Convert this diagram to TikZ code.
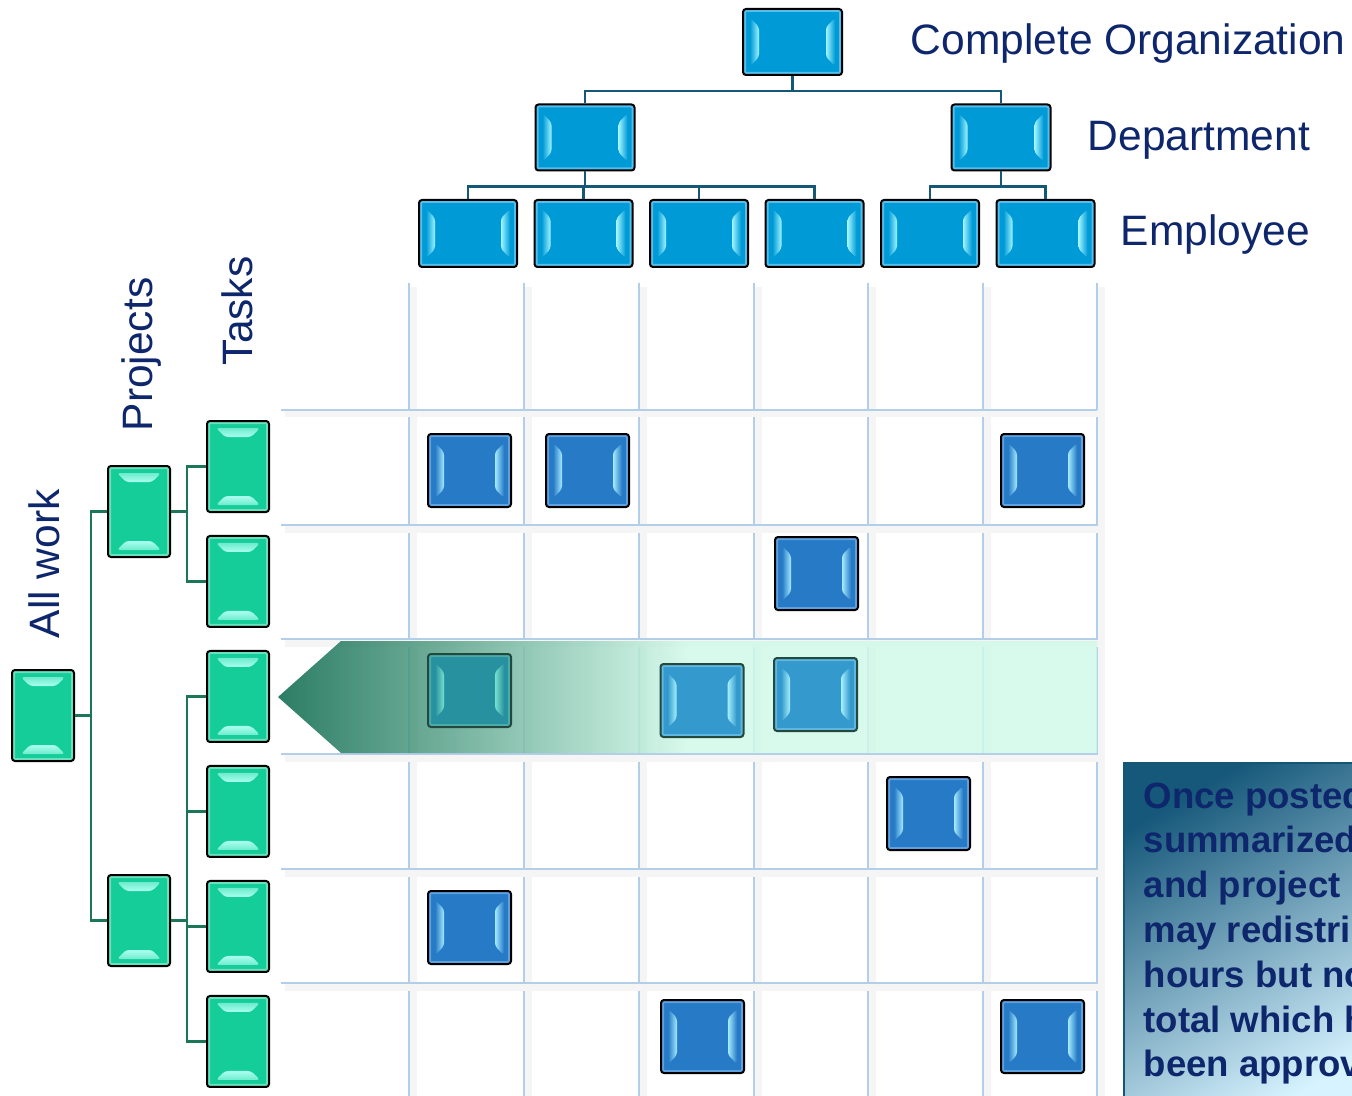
\documentclass[tikz,border=0pt]{standalone}
\usepackage{fontspec}
\setmainfont{Liberation Sans}
\usetikzlibrary{positioning}
\definecolor{navy}{RGB}{14,38,108}
\definecolor{orgfill}{RGB}{0,155,215}
\definecolor{orgrim}{RGB}{85,190,235}
\definecolor{orgshine}{RGB}{160,245,255}
\definecolor{cellfill}{RGB}{38,122,198}
\definecolor{cellrim}{RGB}{95,160,222}
\definecolor{cellshine}{RGB}{165,235,255}
\definecolor{grnfill}{RGB}{20,205,152}
\definecolor{grnrim}{RGB}{105,225,190}
\definecolor{grnshine}{RGB}{170,255,240}
\definecolor{tealfill}{RGB}{40,145,160}
\definecolor{tealrim}{RGB}{75,170,170}
\definecolor{tealshine}{RGB}{120,225,205}
\definecolor{palefill}{RGB}{52,153,205}
\definecolor{palerim}{RGB}{95,182,222}
\definecolor{paleshine}{RGB}{165,240,252}
\definecolor{bandedge}{RGB}{35,72,62}
\definecolor{orgline}{RGB}{20,88,118}
\definecolor{grnline}{RGB}{28,118,88}
\definecolor{gridblue}{RGB}{178,206,232}
\definecolor{banddark}{RGB}{8,102,73}
\definecolor{bandlight}{RGB}{208,249,233}
\definecolor{notetop}{RGB}{22,88,122}
\definecolor{notebot}{RGB}{215,243,255}
\definecolor{noteedge}{RGB}{22,85,115}
\pgfdeclarehorizontalshading{bandshade}{100bp}{color(0bp)=(banddark); color(25bp)=(banddark); color(50bp)=(bandlight); color(100bp)=(bandlight)}

\begin{document}
\begin{tikzpicture}[x=0.1mm,y=-0.1mm,
	lbl/.style={text=navy,inner sep=0pt,font=\fontsize{12.1}{14}\selectfont},
	side/.style={lbl,rotate=90,anchor=base west},
	vbox/.style n args={3}{draw=black,line width=0.2mm,rounded corners=0.3mm,fill=#1,inner sep=0pt,
		path picture={
			\draw[#2,line width=0.6mm] (path picture bounding box.south west) rectangle (path picture bounding box.north east);
			\shade[left color=#1,right color=#3] ([xshift=0.7mm,yshift=-0.9mm]path picture bounding box.north west) -- ([xshift=1.6mm,yshift=-1.8mm]path picture bounding box.north west) -- ([xshift=1.6mm,yshift=1.8mm]path picture bounding box.south west) -- ([xshift=0.7mm,yshift=0.9mm]path picture bounding box.south west) -- cycle;
			\shade[left color=#3,right color=#1] ([xshift=-0.7mm,yshift=-0.9mm]path picture bounding box.north east) -- ([xshift=-1.6mm,yshift=-1.8mm]path picture bounding box.north east) -- ([xshift=-1.6mm,yshift=1.8mm]path picture bounding box.south east) -- ([xshift=-0.7mm,yshift=0.9mm]path picture bounding box.south east) -- cycle;
		}},
	orgbox/.style={vbox={orgfill}{orgrim}{orgshine},minimum width=9.9mm,minimum height=6.6mm},
	empbox/.style={orgbox,minimum width=9.8mm,minimum height=6.7mm},
	cellbox/.style={vbox={cellfill}{cellrim}{cellshine},minimum width=8.3mm,minimum height=7.3mm},
	tealbox/.style={vbox={tealfill}{tealrim}{tealshine},draw=bandedge,minimum width=8.3mm,minimum height=7.3mm},
	palebox/.style={vbox={palefill}{palerim}{paleshine},draw=bandedge,minimum width=8.3mm,minimum height=7.3mm},
	taskbox/.style={draw=black,line width=0.2mm,rounded corners=0.3mm,fill=grnfill,inner sep=0pt,minimum width=6.2mm,minimum height=9.1mm,
		path picture={
			\draw[grnrim,line width=0.6mm] (path picture bounding box.south west) rectangle (path picture bounding box.north east);
			\shade[top color=grnfill!40!grnshine,bottom color=grnshine] ([xshift=0.9mm,yshift=-0.7mm]path picture bounding box.north west) -- ([xshift=-0.9mm,yshift=-0.7mm]path picture bounding box.north east) -- ([xshift=-1.8mm,yshift=-1.6mm]path picture bounding box.north east) -- ([xshift=1.8mm,yshift=-1.6mm]path picture bounding box.north west) -- cycle;
			\shade[bottom color=grnfill!40!grnshine,top color=grnshine] ([xshift=0.9mm,yshift=0.7mm]path picture bounding box.south west) -- ([xshift=-0.9mm,yshift=0.7mm]path picture bounding box.south east) -- ([xshift=-1.8mm,yshift=1.6mm]path picture bounding box.south east) -- ([xshift=1.8mm,yshift=1.6mm]path picture bounding box.south west) -- cycle;
		}},
	tree/.style={draw=orgline,line width=0.22mm},
	gtree/.style={draw=grnline,line width=0.22mm},
	gridline/.style={draw=gridblue,line width=0.2mm,preaction={draw=black!4,line width=0.7mm,transform canvas={xshift=0.4mm,yshift=-0.4mm}}},
	notebox/.style={draw=noteedge,line width=0.2mm,top color=notetop,bottom color=notebot,shading angle=30,inner sep=0pt},
	notetext/.style={text=navy,inner sep=0pt,font=\fontsize{10.4}{12.75}\selectfont\bfseries}
	]
	\useasboundingbox (0,0) rectangle (1352,1096);
	\clip (0,0) rectangle (1352,1096);

	\draw[gridline] (409,283) -- (409,1096) (524,283) -- (524,1096) (639,283) -- (639,1096) (754,283) -- (754,1096)
		(868,283) -- (868,1096) (983,283) -- (983,1096) (1097,283) -- (1097,1096);
	\draw[gridline] (281,410) -- (1097,410) (281,525) -- (1097,525) (281,639) -- (1097,639)
		(281,754) -- (1097,754) (281,869) -- (1097,869) (281,983) -- (1097,983);

	\shade[shading=bandshade,fill opacity=0.85] (278,697) -- (341,641) -- (1097,641) -- (1097,753) -- (341,753) -- cycle;

	\node[orgbox] (org) at (792.5,42) {};
	\node[orgbox] (dep1) at (585,137.5) {};
	\node[orgbox] (dep2) at (1001,137.5) {};
	\node[empbox] (emp1) at (468,233.5) {};
	\node[empbox,right=1.55mm of emp1] (emp2) {};
	\node[empbox,right=1.55mm of emp2] (emp3) {};
	\node[empbox,right=1.55mm of emp3] (emp4) {};
	\node[empbox,right=1.55mm of emp4] (emp5) {};
	\node[empbox,right=1.55mm of emp5] (emp6) {};

	\draw[tree] (org.south) -- ++(0,15) -| (dep1.north);
	\draw[tree] (org.south) -- ++(0,15) -| (dep2.north);
	\draw[tree] (dep1.south) -- ++(0,15) -| (emp1.north);
	\draw[tree] (dep1.south) -- ++(0,15) -| (emp2.north);
	\draw[tree] (dep1.south) -- ++(0,15) -| (emp3.north);
	\draw[tree] (dep1.south) -- ++(0,15) -| (emp4.north);
	\draw[tree] (dep2.south) -- ++(0,15) -| (emp5.north);
	\draw[tree] (dep2.south) -- ++(0,15) -| (emp6.north);

	\node[lbl,anchor=base west] (lorg) at (910,55) {Complete Organization};
	\node[lbl,anchor=base west] (ldep) at (1087,151) {Department};
	\node[lbl,anchor=base west] (lemp) at (1120,246) {Employee};

	\node[side] (lall) at (59,639) {All work};
	\node[side] (lprj) at (152,432) {Projects};
	\node[side] (ltsk) at (252,366) {Tasks};

	\node[taskbox] (all) at (43,715.5) {};
	\node[taskbox] (prj1) at (139,511.5) {};
	\node[taskbox] (prj2) at (139,920.5) {};
	\node[taskbox] (tsk1) at (238,466.5) {};
	\node[taskbox,below=2.2mm of tsk1] (tsk2) {};
	\node[taskbox,below=2.2mm of tsk2] (tsk3) {};
	\node[taskbox,below=2.2mm of tsk3] (tsk4) {};
	\node[taskbox,below=2.2mm of tsk4] (tsk5) {};
	\node[taskbox,below=2.2mm of tsk5] (tsk6) {};

	\draw[gtree] (all.east) -- ++(16,0) |- (prj1.west);
	\draw[gtree] (all.east) -- ++(16,0) |- (prj2.west);
	\draw[gtree] (prj1.east) -- ++(16,0) |- (tsk1.west);
	\draw[gtree] (prj1.east) -- ++(16,0) |- (tsk2.west);
	\draw[gtree] (prj2.east) -- ++(16,0) |- (tsk3.west);
	\draw[gtree] (prj2.east) -- ++(16,0) |- (tsk4.west);
	\draw[gtree] (prj2.east) -- ++(16,0) |- (tsk5.west);
	\draw[gtree] (prj2.east) -- ++(16,0) |- (tsk6.west);

	\node[cellbox] (c1) at (469.5,470.5) {};
	\node[cellbox] (c2) at (587.5,470.5) {};
	\node[cellbox] (c3) at (1042.5,470.5) {};
	\node[cellbox] (c4) at (816.5,573.5) {};
	\node[tealbox] (c5) at (469.5,690.5) {};
	\node[palebox] (c6) at (702,700.5) {};
	\node[palebox] (c7) at (815.5,694.5) {};
	\node[cellbox] (c8) at (928.5,813.5) {};
	\node[cellbox] (c9) at (469.5,927.5) {};
	\node[cellbox] (c10) at (702.5,1036.5) {};
	\node[cellbox] (c11) at (1042.5,1036.5) {};

	\node[notebox,anchor=north west,minimum width=26mm,minimum height=35mm] (note) at (1123,762) {};
	\node[notetext,anchor=base west] (notetxt) at (1143,808) {\begin{tabular}[t]{@{}l@{}}
		Once posted and\\
		summarized, task\\
		and project managers\\
		may redistribute\\
		hours but not the\\
		total which has\\
		been approved.
	\end{tabular}};
\end{tikzpicture}
\end{document}
